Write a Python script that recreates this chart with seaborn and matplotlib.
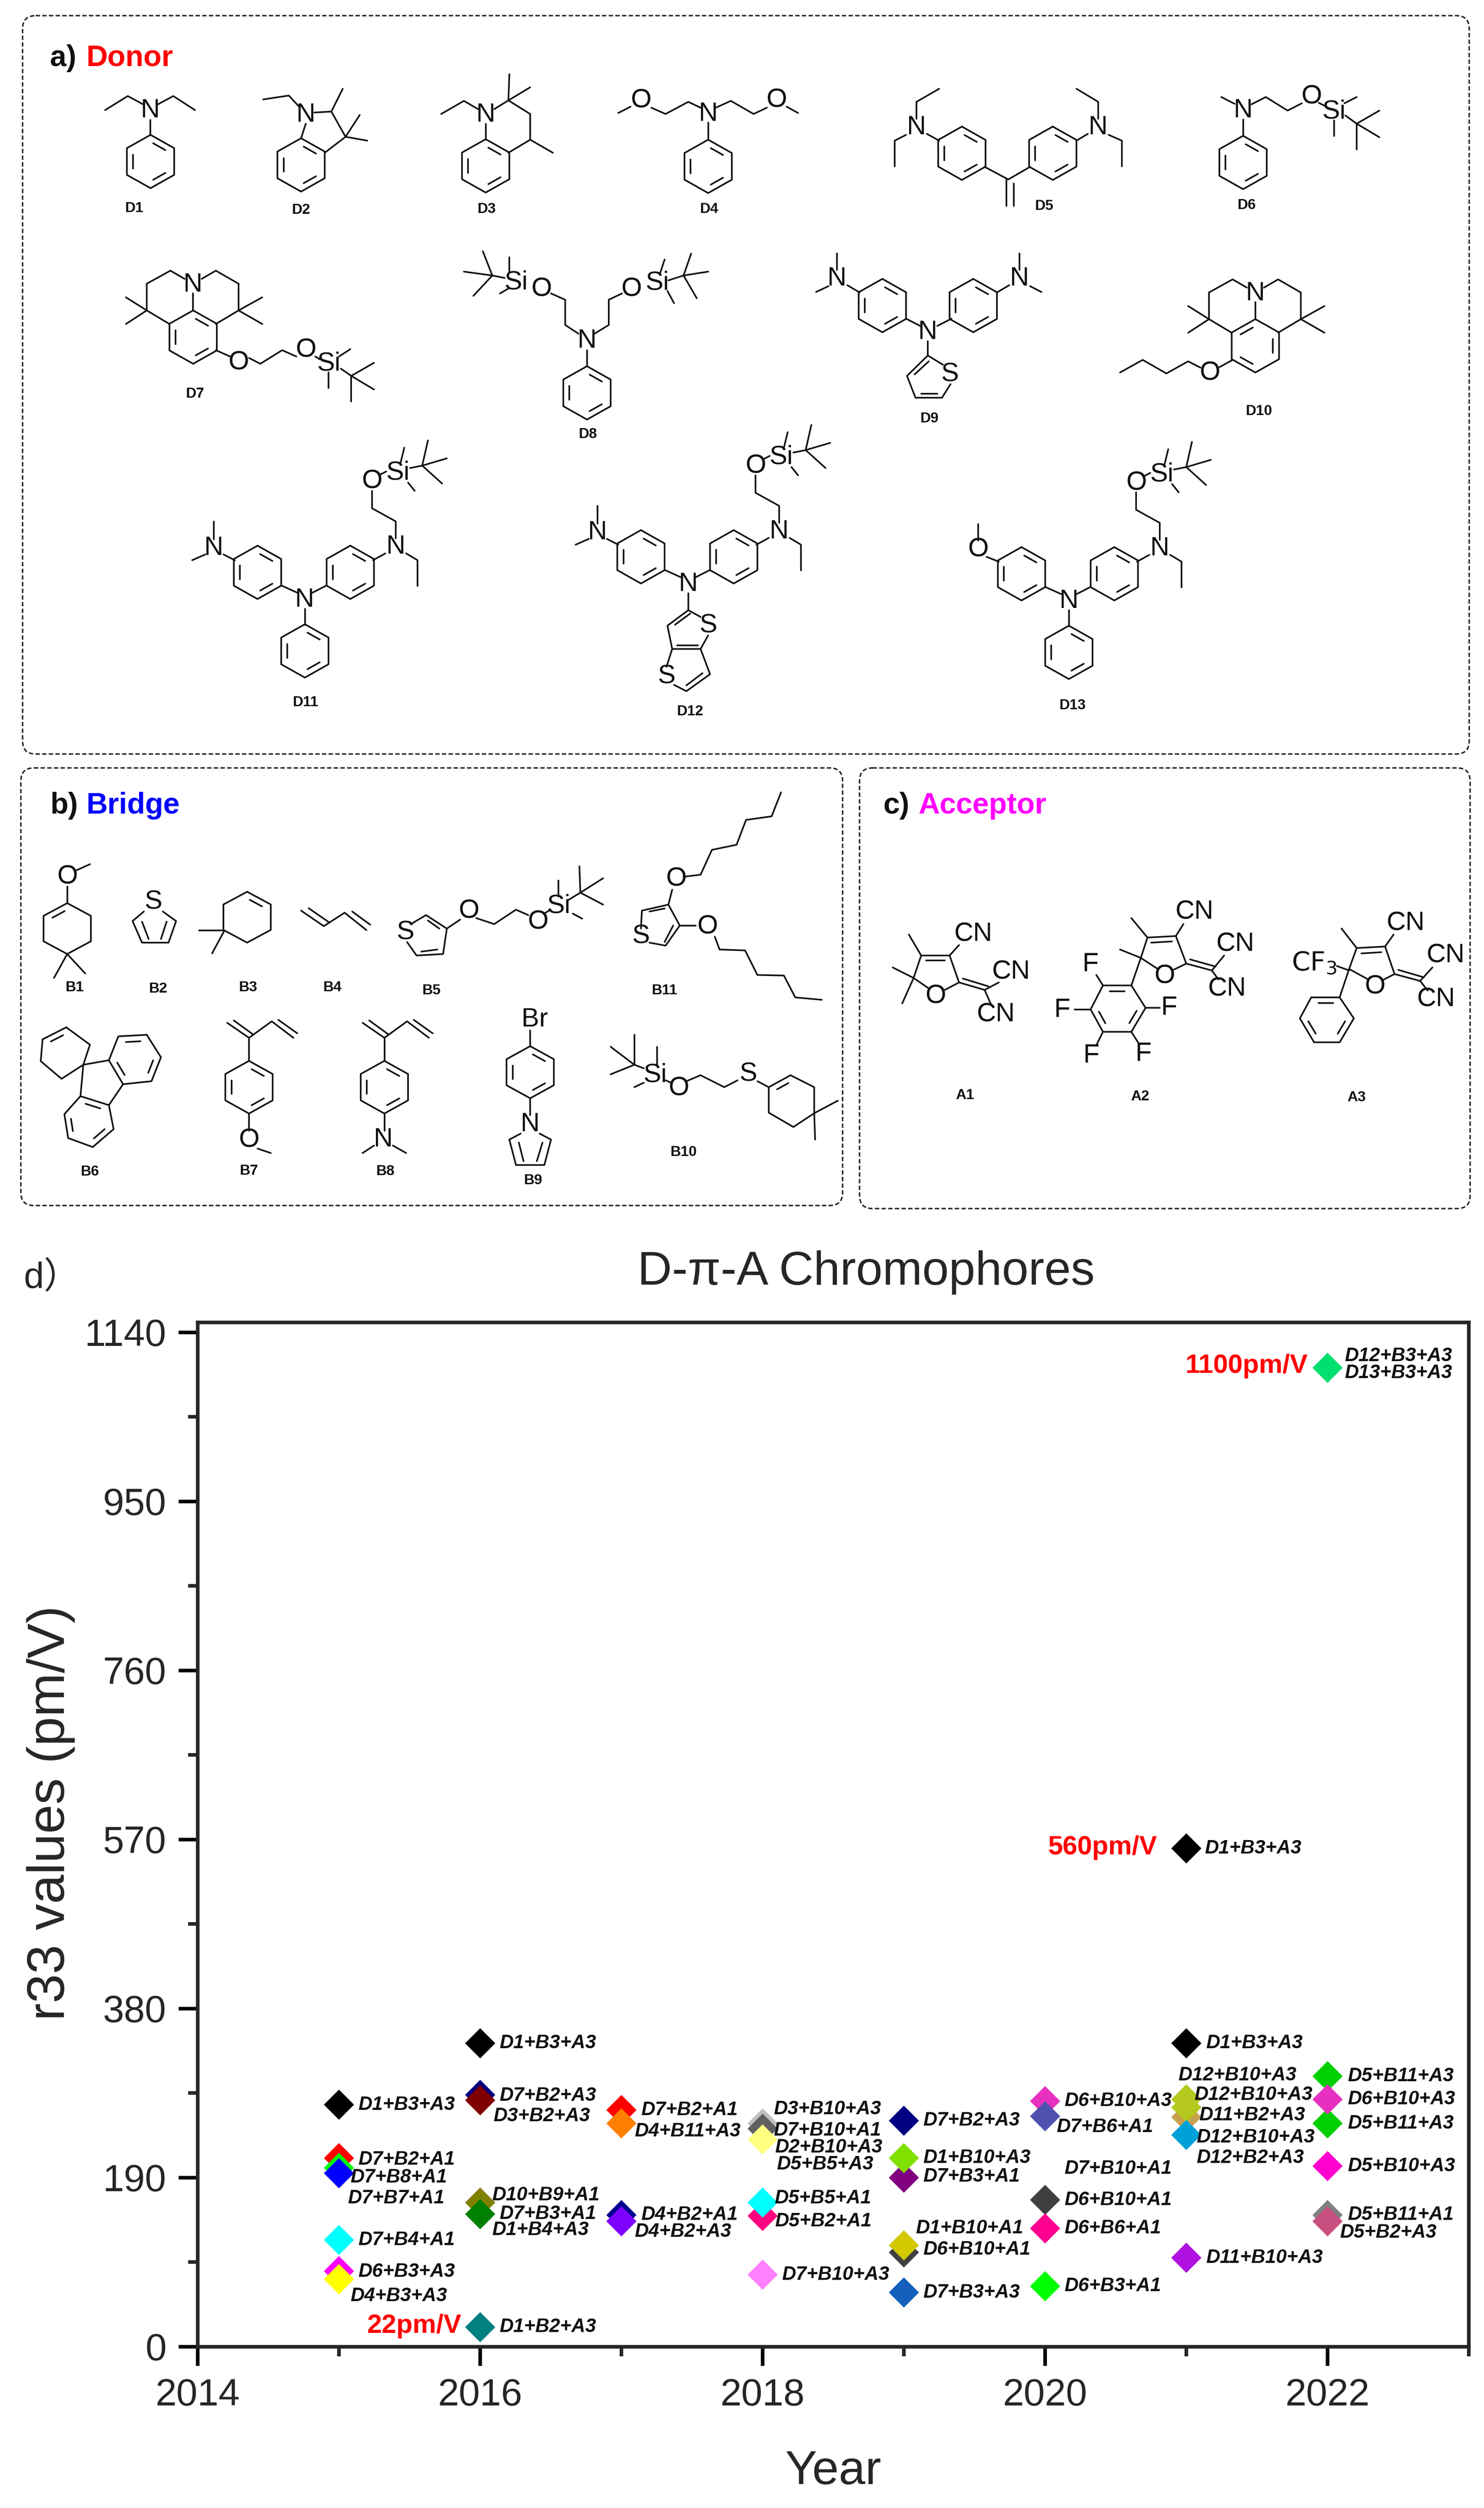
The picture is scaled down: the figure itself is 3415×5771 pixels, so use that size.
import matplotlib
matplotlib.use("Agg")
import matplotlib.pyplot as plt
from matplotlib.patches import FancyBboxPatch
from matplotlib.ticker import MultipleLocator
import seaborn as sns
import pandas as pd

# ---------------- data ----------------
point_years = [2015]*7 + [2016]*6 + [2017]*4 + [2018]*6 + [2019]*6 + [2020]*5 + [2021]*7 + [2022]*7
point_values = [272, 212, 201, 195, 120, 85, 76,
                341, 283, 277, 162, 149, 22,
                266, 251, 148, 141,
                251, 245, 233, 147, 162, 81,
                254, 190, 212, 106, 114, 61,
                276, 259, 165, 133, 68,
                560, 341, 258, 278, 269, 238, 100,
                1100, 304, 251, 278, 203, 148, 141]
point_colors = ["#000000", "#FF0000", "#00FF00", "#0000FF", "#00FFFF", "#FF00FF", "#FFFF00",
                "#000000", "#000080", "#800000", "#808000", "#008000", "#008080",
                "#FF0000", "#FF8000", "#000090", "#8000FF",
                "#C0C0C0", "#606060", "#FFFF80", "#FF0080", "#00FFFF", "#FF80FF",
                "#000080", "#800080", "#80E000", "#404040", "#D4C800", "#1560BD",
                "#E830C0", "#5050B0", "#404040", "#FF0090", "#00FF00",
                "#000000", "#000000", "#C8A050", "#B4C81E", "#B4C81F", "#00A0D8", "#B010E0",
                "#00E070", "#00D000", "#00D001", "#E830C0", "#FF00D0", "#808080", "#C85080"]

label_texts = ["D1+B3+A3", "D7+B2+A1", "D7+B8+A1", "D7+B7+A1", "D7+B4+A1", "D6+B3+A3", "D4+B3+A3",
               "D1+B3+A3", "D7+B2+A3", "D3+B2+A3", "D10+B9+A1", "D7+B3+A1", "D1+B4+A3", "D1+B2+A3",
               "D7+B2+A1", "D4+B11+A3", "D4+B2+A1", "D4+B2+A3",
               "D3+B10+A3", "D7+B10+A1", "D2+B10+A3", "D5+B5+A3", "D5+B5+A1", "D5+B2+A1", "D7+B10+A3",
               "D7+B2+A3", "D1+B10+A3", "D7+B3+A1", "D1+B10+A1", "D6+B10+A1", "D7+B3+A3",
               "D6+B10+A3", "D7+B6+A1", "D7+B10+A1", "D6+B10+A1", "D6+B6+A1", "D6+B3+A1",
               "D1+B3+A3", "D1+B3+A3", "D12+B10+A3", "D12+B10+A3", "D11+B2+A3", "D12+B10+A3", "D12+B2+A3", "D11+B10+A3",
               "D12+B3+A3", "D13+B3+A3", "D5+B11+A3", "D6+B10+A3", "D5+B11+A3", "D5+B10+A3", "D5+B11+A1", "D5+B2+A3"]
label_x = [2015.136, 2015.136, 2015.08, 2015.063, 2015.136, 2015.136, 2015.08,
           2016.137, 2016.137, 2016.094, 2016.084, 2016.137, 2016.084, 2016.137,
           2017.139, 2017.092, 2017.139, 2017.092,
           2018.077, 2018.077, 2018.087, 2018.10, 2018.083, 2018.087, 2018.137,
           2019.137, 2019.137, 2019.137, 2019.083, 2019.137, 2019.137,
           2020.137, 2020.08, 2020.137, 2020.137, 2020.137, 2020.137,
           2021.13, 2021.14, 2020.941, 2021.056, 2021.09, 2021.07, 2021.07, 2021.14,
           2022.12, 2022.12, 2022.143, 2022.143, 2022.143, 2022.143, 2022.143, 2022.086]
label_y = [272, 210, 190, 167, 120, 84, 57,
           341, 282, 259, 170, 149, 131, 22,
           266, 242, 148, 129,
           267, 243, 224, 205, 167, 141, 81,
           254, 212, 191, 133, 109, 61,
           276, 247, 200, 165, 133, 68,
           560, 341, 305, 283, 260, 235, 212, 100,
           1113, 1094, 304, 278, 251, 203, 148, 128]
note_texts = ["1100pm/V", "560pm/V", "22pm/V"]
note_x = [2020.99, 2020.02, 2015.2]
note_y = [1102, 561, 23]

x_ticks = [2014, 2016, 2018, 2020, 2022]
y_ticks = [0, 190, 380, 570, 760, 950, 1140]

# ---------------- style ----------------
sns.set_style("ticks")
plt.rcParams['font.family'] = ['Liberation Sans', 'Noto Sans CJK SC', 'DejaVu Sans']
plt.rcParams['mathtext.default'] = 'regular'

W, H = 3415, 5771
fig = plt.figure(figsize=(W/100, H/100), dpi=100, facecolor="white")

# ---------------- overlay for the structure panels (pixel space) ----------------
bg = fig.add_axes([0, 0, 1, 1], zorder=0)
bg.set_xlim(0, W); bg.set_ylim(H, 0); bg.axis("off")

for (x0, y0, x1, y1) in [(52, 36, 3381, 1735), (48, 1767, 1939, 2774), (1978, 1767, 3383, 2781)]:
    bg.add_patch(FancyBboxPatch((x0+30, y0+30), x1-x0-60, y1-y0-60,
                                boxstyle="round,pad=30,rounding_size=30", fill=False,
                                ec="#222222", lw=2.4, ls=(0, (3, 1.6))))

def Z4(x, y): return (x/.459, y/.896)
def Z5(x, y): return (x/.459, 1720+y/1.452)
BLW = 2.7

def L(conv, *pts):
    p = [conv(*q) for q in pts]
    bg.plot([a for a, _ in p], [b for _, b in p], color="#111111", lw=BLW, solid_capstyle="round", solid_joinstyle="round")

def poly(conv, pts, dbl=()):
    L(conv, *(list(pts)+[pts[0]]))
    cx = sum(p[0] for p in pts)/len(pts); cy = sum(p[1] for p in pts)/len(pts)
    for i in dbl:
        a, b = pts[i], pts[(i+1) % len(pts)]
        a2 = (a[0]+.15*(b[0]-a[0]), a[1]+.15*(b[1]-a[1]))
        b2 = (b[0]+.15*(a[0]-b[0]), b[1]+.15*(a[1]-b[1]))
        a3 = (cx+.74*(a2[0]-cx), cy+.74*(a2[1]-cy)); b3 = (cx+.74*(b2[0]-cx), cy+.74*(b2[1]-cy))
        L(conv, a3, b3)

def ring(conv, cx, cy, rx=25, ry=55, dbl=(0, 2, 4)):
    pts = [(cx, cy-ry), (cx+rx, cy-ry/2), (cx+rx, cy+ry/2), (cx, cy+ry), (cx-rx, cy+ry/2), (cx-rx, cy-ry/2)]
    poly(conv, pts, dbl)

def T(conv, s, x, y, size=44, weight="normal", color="#111111", ha="center"):
    a, b = conv(x, y)
    bg.text(a, b, s, ha=ha, va="center", fontsize=size, fontweight=weight, color=color)

def N4(s, x, y): T(Z4, s, x, y, 24, "bold")
def N5(s, x, y): T(Z5, s, x, y, 24, "bold")

# panel titles
T(Z4, "a)", 53, 120, 49, "bold", ha="left"); T(Z4, "Donor", 91, 120, 49, "bold", "#FF0000", ha="left")
T(Z5, "b)", 53, 195, 49, "bold", ha="left"); T(Z5, "Bridge", 91, 195, 49, "bold", "#0000FF", ha="left")
T(Z5, "c)", 933, 195, 49, "bold", ha="left"); T(Z5, "Acceptor", 970, 195, 49, "bold", "#FF00FF", ha="left")

# D1
T(Z4, "N", 159, 228); L(Z4, (111, 227), (135, 198), (152, 216)); L(Z4, (166, 216), (183, 198), (206, 227))
L(Z4, (159, 247), (159, 278)); ring(Z4, 159, 333); N4("D1", 142, 430)
# D2
T(Z4, "N", 323, 237); L(Z4, (278, 205), (305, 197), (316, 220)); L(Z4, (332, 232), (350, 230), (365, 282), (343, 315))
L(Z4, (323, 255), (318, 285)); ring(Z4, 318, 340); L(Z4, (350, 230), (362, 183)); L(Z4, (365, 282), (380, 237)); L(Z4, (365, 282), (388, 290)); N4("D2", 318, 433)
# D3
T(Z4, "N", 513, 237); L(Z4, (466, 235), (490, 208), (505, 225)); L(Z4, (522, 225), (537, 207)); L(Z4, (537, 207), (538, 153)); L(Z4, (537, 207), (560, 180))
L(Z4, (537, 207), (560, 235), (560, 288), (537, 315)); L(Z4, (560, 288), (584, 315)); L(Z4, (513, 255), (513, 288)); ring(Z4, 513, 342); N4("D3", 514, 431)
# D4
T(Z4, "N", 748, 235); T(Z4, "O", 677, 208); T(Z4, "O", 820, 207); L(Z4, (653, 233), (666, 220)); L(Z4, (688, 222), (703, 235), (727, 210), (740, 222))
L(Z4, (756, 222), (772, 208), (796, 235), (810, 222)); L(Z4, (831, 220), (843, 233)); L(Z4, (748, 253), (748, 288)); ring(Z4, 748, 343); N4("D4", 749, 431)
# D5
T(Z4, "N", 968, 263); T(Z4, "N", 1160, 263); L(Z4, (992, 183), (968, 210), (968, 245)); L(Z4, (957, 278), (945, 290), (945, 343)); L(Z4, (1137, 183), (1160, 210), (1160, 245)); L(Z4, (1171, 278), (1185, 290), (1185, 343))
L(Z4, (979, 276), (992, 290)); L(Z4, (1149, 276), (1137, 290)); ring(Z4, 1016, 316); ring(Z4, 1112, 316); L(Z4, (1040, 344), (1065, 370), (1088, 344)); L(Z4, (1063, 370), (1063, 425)); L(Z4, (1071, 378), (1071, 425)); N4("D5", 1103, 425)
# D6
T(Z4, "N", 1313, 228); T(Z4, "O", 1385, 200); T(Z4, "Si", 1409, 230); L(Z4, (1290, 200), (1304, 214)); L(Z4, (1322, 215), (1337, 200), (1360, 228), (1375, 213)); L(Z4, (1393, 212), (1399, 218))
L(Z4, (1420, 213), (1433, 200)); L(Z4, (1409, 248), (1409, 280)); L(Z4, (1421, 238), (1433, 255)); L(Z4, (1433, 255), (1457, 228)); L(Z4, (1433, 255), (1433, 308)); L(Z4, (1433, 255), (1457, 283)); L(Z4, (1313, 246), (1313, 280)); ring(Z4, 1313, 335); N4("D6", 1317, 423)

def julolidine(cx, cy, flip):
    T(Z4, "N", cx, cy)
    L(Z4, (cx-49, cy-2), (cx-24, cy-29), (cx-9, cy-12)); L(Z4, (cx+9, cy-12), (cx+24, cy-29), (cx+48, cy-2))
    L(Z4, (cx+48, cy-2), (cx+48, cy+53), (cx+24, cy+81)); L(Z4, (cx-49, cy-2), (cx-49, cy+53), (cx-25, cy+81)); L(Z4, (cx, cy+18), (cx, cy+53))
    ring(Z4, cx, cy+108, dbl=(1, 3, 5) if flip else (0, 2, 4))
    L(Z4, (cx-49, cy+53), (cx-71, cy+26)); L(Z4, (cx-49, cy+53), (cx-71, cy+81)); L(Z4, (cx+48, cy+53), (cx+73, cy+26)); L(Z4, (cx+48, cy+53), (cx+73, cy+81))
# D7
julolidine(204, 587, False); T(Z4, "O", 252, 748); T(Z4, "O", 323, 722); T(Z4, "Si", 347, 750)
L(Z4, (228, 722), (243, 735)); L(Z4, (263, 738), (275, 750), (298, 722), (313, 735)); L(Z4, (333, 735), (338, 741)); L(Z4, (358, 735), (370, 720)); L(Z4, (347, 768), (347, 800)); L(Z4, (360, 760), (371, 775))
L(Z4, (371, 775), (395, 748)); L(Z4, (371, 775), (395, 803)); L(Z4, (371, 775), (371, 828)); N4("D7", 206, 812)
# D8
T(Z4, "N", 620, 703); L(Z4, (620, 722), (620, 755)); ring(Z4, 620, 810); L(Z4, (611, 688), (597, 670), (597, 618), (582, 605)); L(Z4, (628, 688), (643, 670), (643, 618), (657, 605))
T(Z4, "O", 572, 597); T(Z4, "O", 667, 597); T(Z4, "Si", 545, 582); T(Z4, "Si", 694, 583)
L(Z4, (520, 568), (510, 518)); L(Z4, (520, 568), (490, 560)); L(Z4, (520, 568), (500, 610)); L(Z4, (520, 568), (533, 573)); L(Z4, (538, 530), (538, 562)); L(Z4, (528, 605), (537, 595))
L(Z4, (702, 535), (697, 565)); L(Z4, (705, 600), (712, 625)); L(Z4, (706, 578), (722, 568)); L(Z4, (722, 568), (730, 523)); L(Z4, (722, 568), (748, 560)); L(Z4, (722, 568), (736, 615)); N4("D8", 621, 896)
# D9
T(Z4, "N", 980, 685); ring(Z4, 932, 630); ring(Z4, 1028, 630); L(Z4, (972, 672), (957, 657)); L(Z4, (990, 672), (1005, 657))
T(Z4, "N", 884, 575); L(Z4, (884, 522), (884, 556)); L(Z4, (862, 602), (875, 590)); L(Z4, (895, 588), (908, 603))
T(Z4, "N", 1077, 575); L(Z4, (1077, 522), (1077, 556)); L(Z4, (1100, 602), (1088, 590)); L(Z4, (1066, 588), (1053, 603))
L(Z4, (980, 703), (980, 733)); T(Z4, "S", 1003, 772); L(Z4, (980, 733), (996, 752)); L(Z4, (1004, 792), (995, 820), (967, 820), (958, 775), (980, 733)); L(Z4, (973, 812), (990, 812)); L(Z4, (966, 772), (981, 745)); N4("D9", 982, 863)
# D10
julolidine(1326, 605, True); T(Z4, "O", 1278, 770); L(Z4, (1302, 742), (1288, 757)); L(Z4, (1183, 768), (1207, 742), (1232, 770), (1255, 745), (1268, 758)); N4("D10", 1330, 848)

def tpa(dx, dy, ome):
    X = lambda a, b: Z4(a+dx, b+dy)
    T(X, "N", 322, 1237); ring(X, 272, 1180); ring(X, 370, 1180); L(X, (314, 1222), (297, 1207)); L(X, (330, 1222), (345, 1207))
    T(X, "N", 418, 1128); L(X, (407, 1141), (394, 1155)); L(X, (429, 1141), (441, 1155), (441, 1208)); L(X, (418, 1110), (418, 1075), (393, 1048), (393, 1012))
    T(X, "O", 393, 993); L(X, (402, 978), (408, 972)); T(X, "Si", 420, 975)
    L(X, (427, 923), (423, 955)); L(X, (431, 995), (438, 1012)); L(X, (433, 965), (446, 960)); L(X, (446, 960), (452, 908)); L(X, (446, 960), (472, 945)); L(X, (446, 960), (467, 997))
    if ome:
        T(X, "O", 226, 1130); L(X, (226, 1078), (226, 1112)); L(X, (235, 1145), (248, 1155))
    else:
        T(X, "N", 226, 1130); L(X, (226, 1075), (226, 1112)); L(X, (203, 1155), (217, 1143)); L(X, (236, 1143), (248, 1155))
# D11
tpa(0, 0, False); L(Z4, (322, 1255), (322, 1288)); ring(Z4, 322, 1342); N4("D11", 323, 1448)
# D12
tpa(405, -32, False); L(Z4, (727, 1223), (727, 1258)); T(Z4, "S", 748, 1290); T(Z4, "S", 704, 1395)
L(Z4, (727, 1258), (740, 1272)); L(Z4, (748, 1310), (740, 1338), (710, 1338), (705, 1290), (727, 1258)); L(Z4, (713, 1288), (729, 1265)); L(Z4, (715, 1331), (737, 1331))
L(Z4, (710, 1338), (704, 1375)); L(Z4, (712, 1412), (725, 1425), (750, 1390), (740, 1338)); L(Z4, (725, 1413), (742, 1388)); N4("D12", 729, 1467)
# D13
tpa(807, 3, True); L(Z4, (1129, 1258), (1129, 1291)); ring(Z4, 1129, 1345); N4("D13", 1133, 1455)

BR = dict(rx=25, ry=85)
# B1
T(Z5, "O", 71, 432); L(Z5, (81, 410), (95, 390)); L(Z5, (71, 465), (71, 520)); ring(Z5, 71, 605, dbl=(5,), **BR); L(Z5, (71, 690), (57, 770)); L(Z5, (71, 690), (90, 755)); N5("B1", 79, 802)
# B2
T(Z5, "S", 162, 517); L(Z5, (152, 548), (140, 580), (150, 652), (178, 652), (186, 580), (172, 548)); L(Z5, (150, 582), (157, 640)); L(Z5, (176, 582), (170, 640)); N5("B2", 167, 806)
# B3
ring(Z5, 261, 567, dbl=(0,), **BR); L(Z5, (237, 612), (210, 612)); L(Z5, (237, 612), (224, 688)); N5("B3", 262, 802)
# B4
L(Z5, (318, 545), (342, 597), (364, 552), (387, 610)); L(Z5, (326, 537), (348, 585)); L(Z5, (372, 548), (391, 592)); N5("B4", 351, 802)
# B5
T(Z5, "S", 428, 618); L(Z5, (434, 590), (450, 560), (472, 605), (468, 690), (440, 695), (430, 650)); L(Z5, (452, 578), (464, 605)); L(Z5, (445, 682), (462, 675)); T(Z5, "O", 495, 547); L(Z5, (472, 605), (486, 575))
L(Z5, (503, 570), (522, 590), (545, 542), (558, 560)); T(Z5, "O", 568, 583); L(Z5, (574, 556), (580, 545)); T(Z5, "Si", 590, 530); L(Z5, (590, 498), (590, 445)); L(Z5, (605, 555), (615, 572)); L(Z5, (600, 510), (613, 485))
L(Z5, (613, 485), (612, 397)); L(Z5, (613, 485), (637, 437)); L(Z5, (613, 485), (637, 525)); N5("B5", 456, 812)
# B11
T(Z5, "S", 677, 632); L(Z5, (677, 605), (678, 545), (706, 525), (718, 595), (703, 662), (686, 652)); L(Z5, (686, 548), (702, 538)); L(Z5, (702, 650), (711, 595)); T(Z5, "O", 714, 440); L(Z5, (706, 525), (710, 475))
L(Z5, (722, 432), (740, 425), (752, 342), (778, 325), (788, 242), (815, 230), (825, 150)); T(Z5, "O", 747, 600); L(Z5, (718, 595), (735, 595)); L(Z5, (755, 632), (760, 675), (787, 678), (800, 760), (828, 762), (840, 835), (868, 843)); N5("B11", 702, 812)
# B6
poly(Z5, [(70, 935), (95, 993), (88, 1060), (65, 1107), (43, 1048), (45, 975)], dbl=(5,))
poly(Z5, [(155, 960), (125, 965), (115, 1045), (130, 1125), (160, 1115), (170, 1035)], dbl=(0, 2, 4))
poly(Z5, [(85, 1165), (115, 1195), (120, 1275), (98, 1335), (72, 1305), (68, 1225)], dbl=(0, 2, 4))
L(Z5, (88, 1060), (85, 1165)); L(Z5, (88, 1060), (115, 1045)); L(Z5, (130, 1125), (115, 1195)); N5("B6", 95, 1418)

def diene(cx):
    L(Z5, (cx-23, 920), (cx, 970), (cx+24, 915), (cx+47, 970)); L(Z5, (cx-16, 912), (cx+4, 958)); L(Z5, (cx+31, 910), (cx+51, 955)); L(Z5, (cx, 970), (cx, 1045)); ring(Z5, cx, 1135, ry=88)
# B7
diene(263); L(Z5, (263, 1222), (263, 1280)); T(Z5, "O", 263, 1312); L(Z5, (272, 1340), (286, 1355)); N5("B7", 263, 1415)
# B8
diene(406); L(Z5, (406, 1222), (406, 1280)); T(Z5, "N", 405, 1310); L(Z5, (395, 1330), (383, 1355)); L(Z5, (415, 1330), (429, 1355)); N5("B8", 407, 1417)
# B9
T(Z5, "Br", 565, 910); L(Z5, (560, 945), (560, 998)); ring(Z5, 560, 1085, ry=87); L(Z5, (560, 1172), (560, 1228)); T(Z5, "N", 560, 1260); L(Z5, (550, 1290), (538, 1310), (545, 1395), (575, 1395), (582, 1310), (570, 1290)); L(Z5, (548, 1320), (553, 1382)); L(Z5, (573, 1320), (567, 1382)); N5("B9", 563, 1447)
# B10
T(Z5, "Si", 692, 1095); L(Z5, (670, 960), (670, 1060)); L(Z5, (645, 1000), (670, 1060)); L(Z5, (645, 1092), (670, 1060)); L(Z5, (670, 1060), (680, 1072)); L(Z5, (694, 1000), (694, 1062)); L(Z5, (680, 1120), (670, 1135))
T(Z5, "O", 717, 1140); L(Z5, (703, 1112), (709, 1120)); L(Z5, (725, 1115), (740, 1095), (765, 1135), (779, 1112)); T(Z5, "S", 790, 1092); L(Z5, (800, 1115), (812, 1135))
poly(Z5, [(812, 1135), (835, 1095), (860, 1135), (860, 1222), (838, 1268), (812, 1220)], dbl=(0,)); L(Z5, (860, 1222), (885, 1180)); L(Z5, (860, 1222), (861, 1310)); N5("B10", 722, 1352)

# A1
T(Z5, "O", 988, 832); L(Z5, (981, 805), (965, 770), (973, 695), (1003, 695), (1013, 785), (998, 810)); L(Z5, (978, 712), (998, 712)); L(Z5, (973, 695), (960, 625)); L(Z5, (1003, 695), (1013, 660)); T(Z5, "CN", 1028, 625)
L(Z5, (965, 770), (943, 735)); L(Z5, (965, 770), (953, 855)); L(Z5, (1013, 785), (1040, 810)); L(Z5, (1017, 772), (1044, 798)); L(Z5, (1040, 810), (1055, 785)); T(Z5, "CN", 1068, 750); L(Z5, (1040, 810), (1047, 860)); T(Z5, "CN", 1052, 893); N5("A1", 1019, 1162)
# A2
T(Z5, "O", 1230, 765); L(Z5, (1222, 738), (1205, 703), (1212, 635), (1242, 630), (1253, 722), (1240, 742)); L(Z5, (1216, 652), (1238, 648)); L(Z5, (1212, 635), (1195, 570)); L(Z5, (1242, 630), (1250, 590)); T(Z5, "CN", 1262, 550)
L(Z5, (1205, 703), (1183, 675)); L(Z5, (1205, 703), (1195, 795)); L(Z5, (1253, 722), (1280, 745)); L(Z5, (1257, 708), (1284, 732)); L(Z5, (1280, 745), (1293, 695)); T(Z5, "CN", 1305, 658); L(Z5, (1280, 745), (1287, 775)); T(Z5, "CN", 1296, 808)
poly(Z5, [(1165, 795), (1195, 795), (1210, 870), (1195, 950), (1165, 950), (1152, 875)], dbl=(0, 2, 4))
T(Z5, "F", 1152, 725); L(Z5, (1158, 760), (1165, 795)); T(Z5, "F", 1122, 878); L(Z5, (1135, 875), (1152, 875)); T(Z5, "F", 1235, 870); L(Z5, (1210, 870), (1225, 870)); T(Z5, "F", 1153, 1030); L(Z5, (1165, 950), (1158, 995)); T(Z5, "F", 1208, 1025); L(Z5, (1195, 950), (1203, 990)); N5("A2", 1204, 1166)
# A3
T(Z5, "O", 1452, 800); L(Z5, (1444, 773), (1425, 740), (1433, 670), (1463, 665), (1473, 757), (1460, 778)); L(Z5, (1438, 688), (1459, 684)); L(Z5, (1433, 670), (1417, 605)); L(Z5, (1463, 665), (1472, 625)); T(Z5, "CN", 1485, 588)
T(Z5, "$\\mathrm{CF_3}$", 1388, 722); L(Z5, (1412, 730), (1425, 745)); L(Z5, (1473, 757), (1500, 780)); L(Z5, (1477, 743), (1504, 768)); L(Z5, (1500, 780), (1513, 735)); T(Z5, "CN", 1527, 695); L(Z5, (1500, 780), (1508, 812)); T(Z5, "CN", 1517, 842)
L(Z5, (1425, 740), (1415, 835)); poly(Z5, [(1385, 835), (1415, 835), (1430, 905), (1415, 985), (1388, 985), (1373, 905)], dbl=(0, 2, 4)); N5("A3", 1433, 1170)

# ---------------- the chart ----------------
ax = fig.add_axes([455/W, 1-5400/H, (3380-455)/W, (5400-3043)/H], zorder=2)
ax.patch.set_alpha(0)
df = pd.DataFrame({"year": point_years, "r33": point_values, "colour": point_colors})
sns.scatterplot(data=df, x="year", y="r33", hue="colour",
                palette={c: c for c in point_colors}, marker="D", s=1250, linewidth=0,
                legend=False, ax=ax, zorder=3, clip_on=False)
ax.set_xlim(2014, 2023)
ax.set_ylim(0, 1151)
ax.set_xticks(x_ticks)
ax.set_yticks(y_ticks)
ax.xaxis.set_minor_locator(MultipleLocator(1))
ax.yaxis.set_minor_locator(MultipleLocator(95))
ax.tick_params(which="major", length=32, width=6, labelsize=63, pad=20, color="black")
ax.tick_params(which="minor", length=16, width=6)
for s in ax.spines.values():
    s.set_linewidth(6)
    s.set_visible(True)
ax.set_xlabel("")
ax.set_ylabel("")
for t, x, y in zip(label_texts, label_x, label_y):
    ax.text(x, y, t, fontsize=32, fontweight="bold", fontstyle="italic", ha="left", va="center", color="#111111", zorder=4)
for t, x, y in zip(note_texts, note_x, note_y):
    ax.text(x, y, t, fontsize=44, fontweight="bold", ha="left", va="center", color="#FF0000", zorder=4)

bg.text(1917, 5688, "Year", ha="center", va="center", fontsize=79)
bg.text(117, 4172, "r33 values (pm/V)", rotation=90, ha="center", va="center", fontsize=87)
bg.text(1993, 2928, "D-π-A Chromophores", ha="center", va="center", fontsize=79)
bg.text(55, 2941, "d）", ha="left", va="center", fontsize=60)

fig.savefig("out.png", dpi=100, facecolor="white")
